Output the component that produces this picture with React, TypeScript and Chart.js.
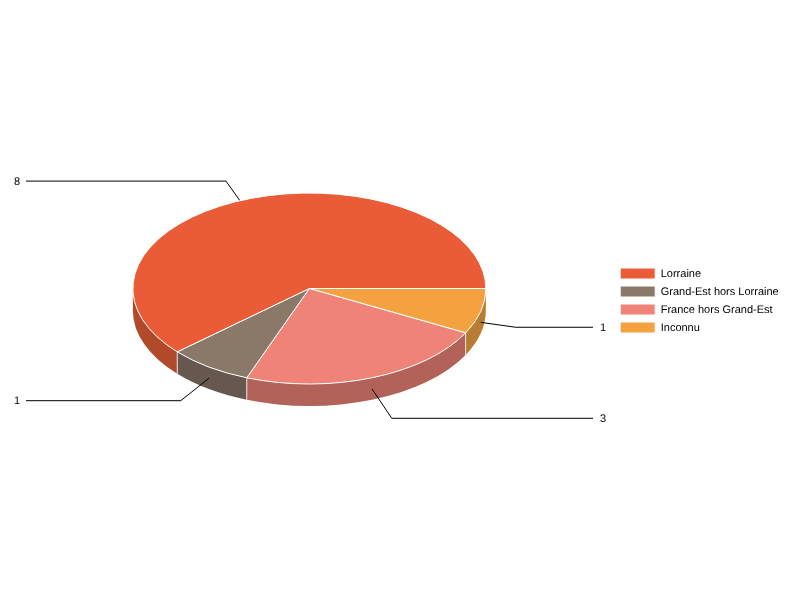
import React, { useEffect, useRef } from 'react';
import { Chart, registerables } from 'chart.js';

Chart.register(...registerables);

const categories = ['Lorraine', 'Grand-Est hors Lorraine', 'France hors Grand-Est', 'Inconnu'];
const counts = [8, 1, 3, 1];
const topColors = ['#EA5C37', '#8A7869', '#F08377', '#F4A140'];
const sideColors = ['#B04A2A', '#66584E', '#B3625A', '#B87D32'];

// elbow of each leader line, relative to the point it starts from
const leaderElbows = [[-20.8, -29.1], [-28.3, 22.6], [19.8, 29.5], [35, 4.9]];

const FLATTEN = 95.5 / 176.5;
const DEPTH = 22;
const LIFT = 12; // top face sits this far above the chart's middle
const FONT = '11px "Liberation Sans", Arial, sans-serif';

// The slices run clockwise from 3 o'clock, last category first
const reversed = <T,>(list: T[]): T[] => [...list].reverse();

const pie3dPlugin = {
  id: 'pie3d',
  beforeDraw(chart: any) {
    chart.ctx.textRendering = 'geometricPrecision';
  },
  beforeDatasetDraw(chart: any) {
    const { ctx } = chart;
    const arcs = chart.getDatasetMeta(0).data;
    const values = chart.data.datasets[0].data;
    const sides = reversed(sideColors);
    const elbows = reversed(leaderElbows);
    const rx = arcs[0].outerRadius;
    const ry = rx * FLATTEN;
    const cx = arcs[0].x;
    const cy = arcs[0].y - LIFT;

    ctx.save();

    // side walls, only the part turned to the viewer
    arcs.forEach((arc: any, i: number) => {
      const from = Math.max(arc.startAngle, 0);
      const to = Math.min(arc.endAngle, Math.PI);
      if (to <= from) return;
      ctx.beginPath();
      ctx.ellipse(cx, cy, rx, ry, 0, from, to);
      ctx.ellipse(cx, cy + DEPTH, rx, ry, 0, to, from, true);
      ctx.closePath();
      ctx.fillStyle = sides[i];
      ctx.fill();
    });
    arcs.forEach((arc: any) => {
      if (arc.startAngle <= 0 || arc.startAngle >= Math.PI) return;
      const px = cx + rx * Math.cos(arc.startAngle);
      const py = cy + ry * Math.sin(arc.startAngle);
      ctx.beginPath();
      ctx.moveTo(px, py);
      ctx.lineTo(px, py + DEPTH);
      ctx.strokeStyle = 'rgba(255,255,255,0.8)';
      ctx.lineWidth = 1;
      ctx.stroke();
    });

    // leader lines lie under the top face
    ctx.font = FONT;
    ctx.textBaseline = 'middle';
    arcs.forEach((arc: any, i: number) => {
      const mid = (arc.startAngle + arc.endAngle) / 2;
      const sx = cx + rx * Math.cos(mid);
      const sy = cy + ry * Math.sin(mid) + DEPTH / 2;
      const ex = sx + elbows[i][0];
      const ey = sy + elbows[i][1];
      const onLeft = elbows[i][0] < 0;
      ctx.beginPath();
      ctx.moveTo(sx, sy);
      ctx.lineTo(ex, ey);
      ctx.lineTo(onLeft ? 26 : 593, ey);
      ctx.strokeStyle = '#000000';
      ctx.lineWidth = 1;
      ctx.stroke();
      ctx.fillStyle = '#000000';
      ctx.textAlign = onLeft ? 'right' : 'left';
      ctx.fillText(String(values[i]), onLeft ? 20 : 600, ey + 0.5);
    });

    // top face
    arcs.forEach((arc: any) => {
      ctx.beginPath();
      ctx.moveTo(cx, cy);
      ctx.ellipse(cx, cy, rx, ry, 0, arc.startAngle, arc.endAngle);
      ctx.closePath();
      ctx.fillStyle = arc.options.backgroundColor;
      ctx.fill();
      ctx.strokeStyle = arc.options.borderColor;
      ctx.lineWidth = arc.options.borderWidth;
      ctx.stroke();
    });

    ctx.restore();
    return false; // the flat arcs are not drawn
  },
};

export default function App() {
  const canvasRef = useRef<HTMLCanvasElement>(null);

  useEffect(() => {
    if (!canvasRef.current) return;
    const chart = new Chart(canvasRef.current, {
      type: 'pie',
      data: {
        labels: reversed(categories),
        datasets: [
          {
            data: reversed(counts),
            backgroundColor: reversed(topColors),
            borderColor: '#FFFFFF',
            borderWidth: 1,
            radius: 176.5,
          },
        ],
      },
      plugins: [pie3dPlugin],
      options: {
        responsive: false,
        animation: false,
        rotation: 90,
        layout: { padding: { left: 5.5, right: 11.3, top: 1 } },
        plugins: {
          tooltip: { enabled: false },
          legend: {
            position: 'right',
            reverse: true,
            labels: {
              boxWidth: 35,
              boxHeight: 11,
              padding: 7,
              color: '#000000',
              font: { family: '"Liberation Sans", Arial, sans-serif', size: 11 },
            },
          },
        },
      },
    });
    return () => chart.destroy();
  }, []);

  return (
    <div style={{ position: 'fixed', left: 0, top: 0, width: 800, height: 600, background: '#FFFFFF' }}>
      <canvas ref={canvasRef} width={800} height={600}></canvas>
    </div>
  );
}
